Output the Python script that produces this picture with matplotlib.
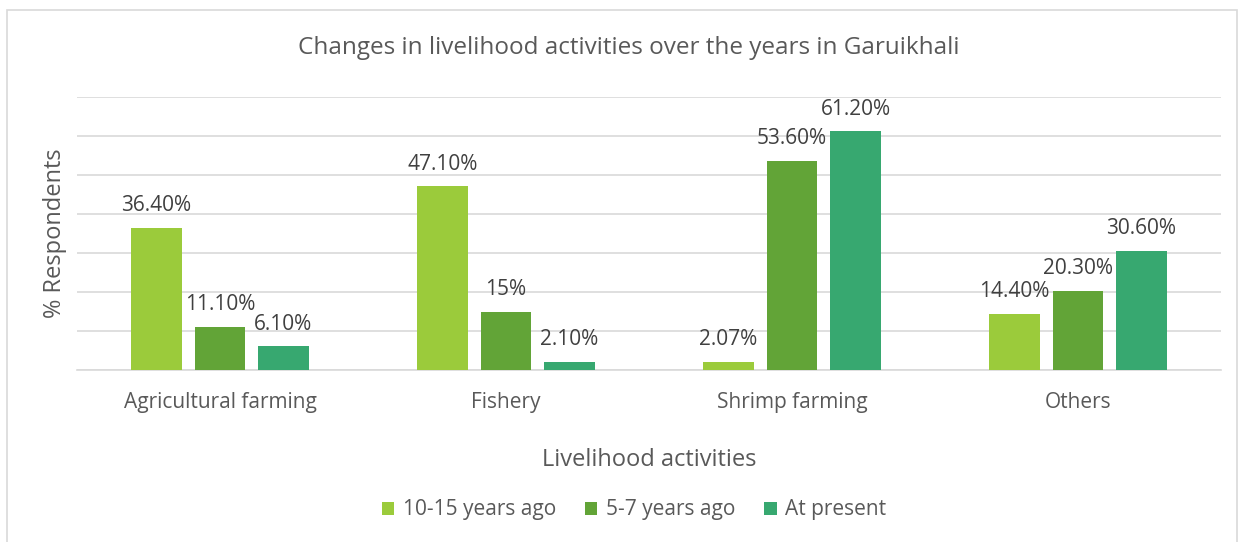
import matplotlib
matplotlib.use('Agg')
import matplotlib.pyplot as plt
import numpy as np
from matplotlib.patches import Rectangle

categories = ["Agricultural farming", "Fishery", "Shrimp farming", "Others"]
series_names = ["10-15 years ago", "5-7 years ago", "At present"]
years_10_15 = [36.4, 47.1, 2.07, 14.4]
years_5_7 = [11.1, 15, 53.6, 20.3]
at_present = [6.1, 2.1, 61.2, 30.6]
labels_10_15 = ["36.40%", "47.10%", "2.07%", "14.40%"]
labels_5_7 = ["11.10%", "15%", "53.60%", "20.30%"]
labels_present = ["6.10%", "2.10%", "61.20%", "30.60%"]

colors = ["#9BCB3B", "#62A437", "#37A870"]
text_col = "#595959"
plt.rcParams['font.family'] = ['Open Sans', 'DejaVu Sans']

fig = plt.figure(figsize=(12.44, 5.42), dpi=100)
fig.patches.append(Rectangle((7/1244, -0.05), 1230/1244, 1.05 - 10/542,
                             transform=fig.transFigure, fill=False,
                             edgecolor="#D9D9D9", lw=1.2))
ax = fig.add_axes([77/1244, 172/542, 1144/1244, 273/542])

x = np.arange(len(categories))
step = 0.222
width = 0.175
all_vals = [years_10_15, years_5_7, at_present]
all_labels = [labels_10_15, labels_5_7, labels_present]
for i, (vals, labs) in enumerate(zip(all_vals, all_labels)):
    pos = x + (i - 1) * step
    ax.bar(pos, vals, width, color=colors[i], label=series_names[i], zorder=3)
    for p, v, t in zip(pos, vals, labs):
        ax.text(p, v + 3.0, t, ha="center", va="bottom", fontsize=15,
                color="#404040")

ax.set_xlim(-0.5, 3.5)
ax.set_ylim(0, 70)
ax.set_yticks(np.arange(0, 71, 10))
ax.set_yticklabels([])
ax.yaxis.grid(True, color="#D9D9D9", lw=1.2, zorder=0)
ax.tick_params(axis="y", length=0)
ax.tick_params(axis="x", length=0, pad=16, labelsize=15, labelcolor=text_col)
ax.set_xticks(x)
ax.set_xticklabels(categories)
for s in ["top", "right", "left"]:
    ax.spines[s].set_visible(False)
ax.spines["bottom"].set_color("#D9D9D9")
ax.spines["bottom"].set_linewidth(1.2)

ax.set_ylabel("% Respondents", fontsize=17, color=text_col, labelpad=4)
fig.text(649/1244, 1 - 460/542, "Livelihood activities", ha="center",
         va="center", fontsize=17, color=text_col)
fig.text(629/1244, 1 - 48/542, "Changes in livelihood activities over the years in Garuikhali",
         ha="center", va="center", fontsize=17.5, color=text_col)

leg = fig.legend(loc="center", bbox_to_anchor=(634/1244, 1 - 510/542), ncol=3,
                 frameon=False, fontsize=15, handlelength=0.6, handleheight=0.6,
                 handletextpad=0.4, columnspacing=1.4)
for t in leg.get_texts():
    t.set_color(text_col)

fig.savefig("out.png", dpi=100)
